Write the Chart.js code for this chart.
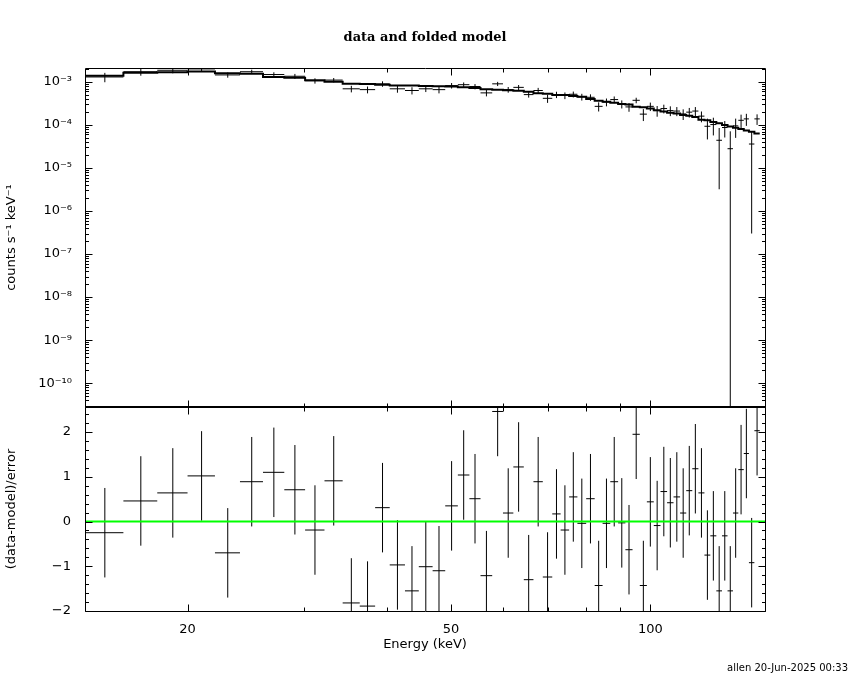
<!DOCTYPE html>
<html lang="en">
<head>
<meta charset="UTF-8">
<title>data and folded model</title>
<script src="https://cdn.jsdelivr.net/npm/chart.js"></script>
<style>
    body { margin: 0; background: #ffffff; }
    #wrap { width: 850px; height: 680px; }
</style>
</head>
<body>
<div id="wrap"><canvas id="spec" width="850" height="680"></canvas></div>
<script>
// energy bin edges (keV), 58 bins
const binEdges = [14.0, 16.0, 18.0, 20.0, 22.0, 24.0, 26.0, 28.0, 30.1, 32.2,
    34.3, 36.4, 38.4, 40.4, 42.6, 44.7, 46.9, 49.0, 51.2, 53.3,
    55.4, 57.7, 59.9, 62.1, 64.4, 66.6, 68.8, 71.1, 73.2, 75.4,
    77.6, 80.0, 82.4, 84.7, 87.0, 89.4, 91.7, 94.0, 96.4, 98.8,
    101.2, 103.6, 106.0, 108.4, 110.9, 113.3, 115.7, 118.2, 120.7, 123.2,
    125.8, 128.3, 130.8, 133.3, 135.8, 138.4, 140.9, 143.6, 146.3];

// counts s^-1 keV^-1
const rate = [1.30e-3, 1.72e-3, 1.86e-3, 2.00e-3, 1.45e-3, 1.72e-3, 1.48e-3, 1.35e-3, 1.06e-3, 1.10e-3,
    6.9e-4, 6.6e-4, 9.0e-4, 6.9e-4, 6.3e-4, 6.9e-4, 6.6e-4, 8.2e-4, 8.6e-4, 7.8e-4,
    5.55e-4, 9.0e-4, 6.6e-4, 7.45e-4, 5.06e-4, 6.3e-4, 4.15e-4, 5.05e-4, 4.82e-4, 5.15e-4,
    4.48e-4, 4.38e-4, 2.70e-4, 3.40e-4, 3.88e-4, 3.06e-4, 2.62e-4, 3.73e-4, 1.78e-4, 2.70e-4,
    2.15e-4, 2.40e-4, 2.15e-4, 2.10e-4, 1.80e-4, 1.98e-4, 2.10e-4, 1.60e-4, 9.3e-5, 1.02e-4,
    4.4e-5, 8.7e-5, 2.8e-5, 9.5e-5, 1.28e-4, 1.38e-4, 3.6e-5, 1.38e-4];

const rateErr = [3.2e-4, 3.3e-4, 2.8e-4, 2.6e-4, 2.0e-4, 2.0e-4, 1.9e-4, 1.8e-4, 1.5e-4, 1.3e-4,
    1.2e-4, 1.2e-4, 1.3e-4, 1.3e-4, 1.2e-4, 1.1e-4, 1.2e-4, 1.2e-4, 1.1e-4, 1.1e-4,
    9.5e-5, 1.0e-4, 1.0e-4, 1.0e-4, 7.5e-5, 9.5e-5, 9.0e-5, 8.5e-5, 8.5e-5, 8.0e-5,
    8.0e-5, 7.5e-5, 6.5e-5, 7.0e-5, 7.0e-5, 6.5e-5, 6.0e-5, 5.5e-5, 5.5e-5, 6.0e-5,
    6.0e-5, 5.5e-5, 5.5e-5, 5.0e-5, 5.0e-5, 5.0e-5, 5.0e-5, 4.5e-5, 4.7e-5, 4.5e-5,
    4.08e-5, 3.6e-5, 4.3e-5, 4.5e-5, 4.5e-5, 4.3e-5, 3.57e-5, 3.8e-5];

// folded model
const model = [1.38e-3, 1.62e-3, 1.68e-3, 1.74e-3, 1.59e-3, 1.55e-3, 1.30e-3, 1.24e-3, 1.09e-3, 1.00e-3,
    9.1e-4, 8.9e-4, 8.6e-4, 8.2e-4, 8.2e-4, 8.0e-4, 7.9e-4, 7.8e-4, 7.5e-4, 7.2e-4,
    6.7e-4, 6.6e-4, 6.4e-4, 6.25e-4, 5.9e-4, 5.45e-4, 5.3e-4, 4.95e-4, 4.98e-4, 4.72e-4,
    4.51e-4, 4.0e-4, 3.63e-4, 3.43e-4, 3.26e-4, 3.08e-4, 3.0e-4, 2.66e-4, 2.57e-4, 2.42e-4,
    2.2e-4, 2.05e-4, 1.93e-4, 1.83e-4, 1.71e-4, 1.64e-4, 1.52e-4, 1.31e-4, 1.28e-4, 1.17e-4,
    1.09e-4, 1.0e-4, 9.2e-5, 8.6e-5, 8.0e-5, 7.4e-5, 6.9e-5, 6.3e-5];

// (data-model)/error
const resid = [-0.25, 0.46, 0.64, 1.02, -0.70, 0.89, 1.10, 0.71, -0.19, 0.91,
    -1.82, -1.89, 0.31, -0.97, -1.55, -1.01, -1.10, 0.35, 1.04, 0.51,
    -1.21, 2.46, 0.19, 1.22, -1.30, 0.89, -1.24, 0.17, -0.19, 0.55,
    -0.04, 0.51, -1.43, -0.04, 0.89, -0.03, -0.63, 1.95, -1.43, 0.44,
    -0.09, 0.67, 0.42, 0.55, 0.19, 0.69, 1.18, 0.64, -0.75, -0.32,
    -1.55, -0.32, -1.55, 0.19, 1.16, 1.52, -0.92, 2.03];

const xTickLabels = [20, 50, 100];
const xMinorTicks = [30, 40, 60, 70, 80, 90];
const rateTickLabels = [1e-10, 1e-9, 1e-8, 1e-7, 1e-6, 1e-5, 1e-4, 1e-3];
const residTickLabels = [-2, -1, 0, 1, 2];

const eMin = 14, eMax = 149;
const rateMin = 2.8e-11, rateMax = 2.1e-3;
const residMin = -2, residMax = 2.56;

const labelFont = { family: 'DejaVu Sans', size: 13 };

function crossPoints(vals, lo, hi) {
    const pts = [];
    vals.forEach((v, i) => {
        const e0 = binEdges[i], e1 = binEdges[i + 1], c = (e0 + e1) / 2;
        pts.push({ x: e0, y: v }, { x: e1, y: v }, { x: c, y: null });
        pts.push({ x: c, y: lo(v, i) }, { x: c, y: hi(v, i) }, { x: c, y: null });
    });
    return pts;
}

const ratePts = crossPoints(rate,
    (v, i) => Math.max(v - rateErr[i], rateMin),
    (v, i) => v + rateErr[i]);
const residPts = crossPoints(resid,
    v => Math.max(v - 1, residMin),
    v => Math.min(v + 1, residMax));

const modelPts = [];
model.forEach((m, i) => {
    modelPts.push({ x: binEdges[i], y: m }, { x: binEdges[i + 1], y: m });
});

const supMap = { '-': '⁻', '0': '⁰', '1': '¹', '2': '²', '3': '³', '4': '⁴', '5': '⁵', '6': '⁶', '7': '⁷', '8': '⁸', '9': '⁹' };
function powLabel(v) {
    const p = String(Math.round(Math.log10(v)));
    return '10' + p.split('').map(ch => supMap[ch]).join('');
}

// pgplot style frame: ticks inside on all four sides of each panel
const rateMinor = [];
for (let d = -11; d <= -3; d++) {
    for (let k = 2; k <= 9; k++) {
        const v = k * Math.pow(10, d);
        if (v > rateMin && v < rateMax) rateMinor.push(v);
    }
}
const residMinor = [];
for (let v = -20; v <= 25; v += 2) residMinor.push(v / 10);

const panelFrame = {
    id: 'panelFrame',
    afterDraw(chart) {
        const { ctx, scales } = chart;
        const x = scales.x;
        const l = Math.round(x.left) + 0.5, r = Math.round(x.right) + 0.5;
        ctx.save();
        ctx.strokeStyle = '#000';
        ctx.lineWidth = 1;
        const panels = [
            [scales.yrate, rateTickLabels, rateMinor],
            [scales.yres, residTickLabels, residMinor]
        ];
        panels.forEach(([y, major, minor]) => {
            const t = Math.round(y.top) + 0.5, b = Math.round(y.bottom) + 0.5;
            ctx.beginPath();
            ctx.rect(l, t, r - l, b - t);
            const xt = (v, len) => {
                const px = Math.round(x.getPixelForValue(v)) + 0.5;
                ctx.moveTo(px, b); ctx.lineTo(px, b - len);
                ctx.moveTo(px, t); ctx.lineTo(px, t + len);
            };
            xTickLabels.forEach(v => xt(v, 7));
            xMinorTicks.forEach(v => xt(v, 4));
            const yt = (v, len) => {
                const py = Math.round(y.getPixelForValue(v)) + 0.5;
                ctx.moveTo(l, py); ctx.lineTo(l + len, py);
                ctx.moveTo(r, py); ctx.lineTo(r - len, py);
            };
            major.forEach(v => yt(v, 7));
            minor.forEach(v => yt(v, 3.5));
            ctx.stroke();
        });
        // shared border between the panels
        ctx.lineWidth = 2;
        ctx.beginPath();
        const mid = Math.round(scales.yres.top);
        ctx.moveTo(l, mid); ctx.lineTo(r, mid);
        ctx.stroke();
        // run stamp
        ctx.fillStyle = '#000';
        ctx.font = '10px "DejaVu Sans"';
        ctx.textAlign = 'right';
        ctx.textBaseline = 'middle';
        ctx.fillText('allen 20-Jun-2025 00:33', 848, 668);
        ctx.restore();
    }
};

const line = { pointRadius: 0, fill: false, tension: 0, spanGaps: false };

new Chart(document.getElementById('spec'), {
    type: 'line',
    data: {
        datasets: [
            Object.assign({ data: [{ x: eMin, y: 0 }, { x: eMax, y: 0 }], yAxisID: 'yres', borderColor: '#00ff00', borderWidth: 2 }, line),
            Object.assign({ data: modelPts, yAxisID: 'yrate', borderColor: '#000000', borderWidth: 2 }, line),
            Object.assign({ data: ratePts, yAxisID: 'yrate', borderColor: '#000000', borderWidth: 1 }, line),
            Object.assign({ data: residPts, yAxisID: 'yres', borderColor: '#000000', borderWidth: 1 }, line)
        ]
    },
    options: {
        responsive: false,
        animation: false,
        devicePixelRatio: 1,
        layout: { padding: { left: 0, right: 85, top: 0, bottom: 0 } },
        plugins: {
            legend: { display: false },
            tooltip: { enabled: false },
            title: {
                display: true,
                text: 'data and folded model',
                fullSize: false,
                color: '#000',
                font: { family: 'DejaVu Serif', size: 13, weight: 'bold' },
                padding: { top: 30, bottom: 22.4 }
            }
        },
        scales: {
            x: {
                type: 'logarithmic',
                min: eMin,
                max: eMax,
                grid: { display: false },
                border: { display: false },
                afterBuildTicks: s => { s.ticks = xTickLabels.map(v => ({ value: v })); },
                afterFit: s => { s.height = 69; },
                ticks: { autoSkip: false, maxRotation: 0, padding: 3, color: '#000', font: labelFont, callback: v => String(v) },
                title: { display: true, text: 'Energy (keV)', color: '#000', font: labelFont, padding: { top: 0, bottom: 28 } }
            },
            yres: {
                type: 'linear',
                position: 'left',
                stack: 'panels',
                stackWeight: 204,
                min: residMin,
                max: residMax,
                grid: { display: false },
                border: { display: false },
                afterBuildTicks: s => { s.ticks = residTickLabels.map(v => ({ value: v })); },
                afterFit: s => { s.width = 85; },
                ticks: { padding: 6, color: '#000', font: labelFont, callback: v => (v < 0 ? '−' + Math.abs(v) : String(v)) },
                title: { display: true, text: '(data-model)/error', color: '#000', font: labelFont, padding: { top: 4, bottom: 0 } }
            },
            yrate: {
                type: 'logarithmic',
                position: 'left',
                stack: 'panels',
                stackWeight: 339,
                min: rateMin,
                max: rateMax,
                grid: { display: false },
                border: { display: false },
                afterBuildTicks: s => { s.ticks = rateTickLabels.map(v => ({ value: v })); },
                afterFit: s => { s.width = 85; },
                ticks: { padding: 5, color: '#000', font: labelFont, callback: v => powLabel(v) },
                title: { display: true, text: 'counts s⁻¹ keV⁻¹', color: '#000', font: labelFont, padding: { top: 4, bottom: 0 } }
            }
        }
    },
    plugins: [panelFrame]
});
</script>
</body>
</html>
